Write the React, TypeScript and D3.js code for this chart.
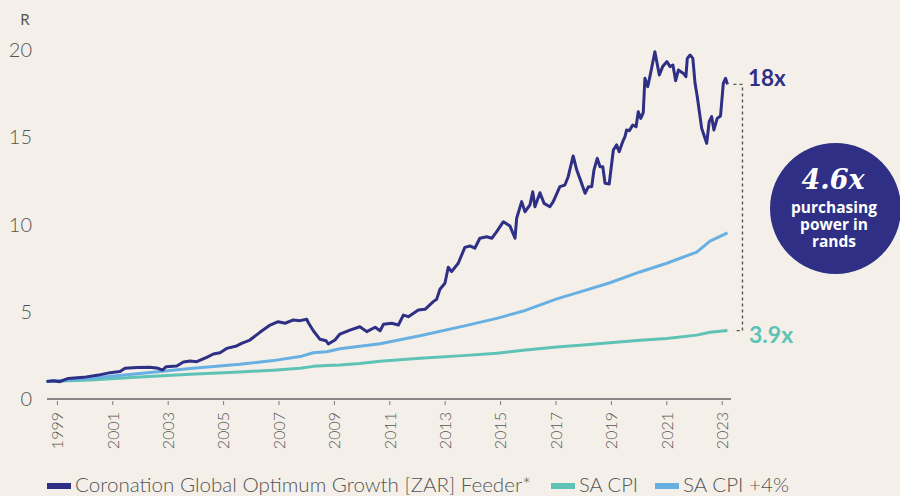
import React from "react";
import * as d3 from "d3";

const fundYears = [1998.61,1998.85,1999.09,1999.39,1999.94,2000.48,2000.90,2001.26,2001.44,2001.86,2002.34,2002.64,2002.80,2002.92,2003.31,2003.55,2003.79,2004.03,2004.39,2004.63,2004.87,2005.11,2005.47,2005.65,2005.95,2006.31,2006.68,2006.97,2007.22,2007.52,2007.76,2008.00,2008.06,2008.24,2008.48,2008.70,2008.78,2009.02,2009.20,2009.56,2009.92,2010.17,2010.47,2010.65,2010.77,2011.07,2011.31,2011.49,2011.67,2012.03,2012.27,2012.57,2012.69,2012.81,2012.99,2013.11,2013.23,2013.47,2013.71,2013.89,2014.07,2014.25,2014.50,2014.68,2014.86,2015.10,2015.34,2015.52,2015.58,2015.76,2015.88,2016.06,2016.16,2016.24,2016.42,2016.57,2016.78,2016.90,2017.14,2017.32,2017.44,2017.62,2017.75,2017.87,2018.05,2018.17,2018.29,2018.37,2018.49,2018.59,2018.69,2018.77,2018.92,2019.07,2019.19,2019.28,2019.41,2019.49,2019.55,2019.65,2019.77,2019.89,2019.97,2020.06,2020.15,2020.21,2020.31,2020.39,2020.57,2020.73,2020.85,2021.00,2021.12,2021.22,2021.32,2021.42,2021.60,2021.69,2021.74,2021.84,2021.94,2022.02,2022.10,2022.26,2022.34,2022.44,2022.53,2022.62,2022.70,2022.82,2022.94,2023.04,2023.12,2023.19];
const fundValues = [1.00,1.05,0.99,1.18,1.24,1.37,1.51,1.57,1.76,1.80,1.82,1.76,1.66,1.85,1.89,2.12,2.18,2.14,2.39,2.58,2.65,2.90,3.04,3.19,3.38,3.82,4.24,4.43,4.34,4.53,4.49,4.57,4.37,3.91,3.42,3.34,3.15,3.38,3.72,3.95,4.14,3.86,4.11,3.91,4.28,4.34,4.24,4.81,4.72,5.10,5.14,5.58,5.71,6.29,6.63,7.55,7.30,7.78,8.69,8.77,8.64,9.21,9.30,9.21,9.59,10.16,9.91,9.21,10.36,11.31,10.73,11.12,11.88,11.02,11.82,11.21,11.02,11.31,12.17,12.26,12.74,13.93,13.12,12.60,11.79,12.17,12.17,13.12,13.79,13.31,13.31,12.36,12.32,14.27,14.56,14.17,14.75,15.03,15.42,15.38,15.70,15.60,16.46,16.08,16.41,18.38,17.90,18.47,19.90,18.57,19.05,19.33,19.05,19.14,18.24,18.85,18.66,18.47,19.52,19.71,19.52,18.09,17.32,15.51,15.13,14.65,15.89,16.18,15.42,16.08,16.22,18.09,18.38,18.03];

const cpiYears = [1998.61,2000.18,2001.98,2003.79,2005.59,2006.79,2007.76,2008.24,2008.72,2009.20,2009.92,2010.65,2012.09,2013.78,2014.86,2015.82,2017.03,2017.87,2018.95,2020.03,2021.00,2022.08,2022.56,2023.19];
const cpiValues = [1.00,1.09,1.26,1.42,1.55,1.65,1.76,1.87,1.92,1.95,2.04,2.16,2.33,2.50,2.62,2.79,2.98,3.08,3.22,3.36,3.47,3.66,3.82,3.92];
const cpiPlusValues = [1.00,1.19,1.46,1.75,1.99,2.20,2.43,2.65,2.71,2.88,3.02,3.17,3.62,4.22,4.62,5.04,5.74,6.14,6.66,7.28,7.78,8.42,9.05,9.52];

const yTicks = [0, 5, 10, 15, 20];
const xTickYears = [1999, 2001, 2003, 2005, 2007, 2009, 2011, 2013, 2015, 2017, 2019, 2021, 2023];

const seriesNames = ["Coronation Global Optimum Growth [ZAR] Feeder*", "SA CPI", "SA CPI +4%"];
const fundMultiple = "18x";
const cpiMultiple = "3.9x";
const bubbleMain = "4.6x";
const bubbleLines = ["purchasing", "power in", "rands"];

const NAVY = "#2e2f85";
const TEAL = "#5fc2b6";
const LBLUE = "#68afe2";
const BG = "#f4f0e9";
const GREY = "#555555";
const FONT = "Lato, 'Open Sans', sans-serif";

export default function App() {
  const W = 900, H = 496;
  const x = d3.scaleLinear().domain([1999, 2023]).range([57.4, 722.2]);
  const y = d3.scaleLinear().domain([0, 20]).range([399, 50]);
  const line = d3.line<[number, number]>().x(d => x(d[0])).y(d => y(d[1]));
  const fund = fundYears.map((t, i) => [t, fundValues[i]] as [number, number]);
  const cpi = cpiYears.map((t, i) => [t, cpiValues[i]] as [number, number]);
  const cpiPlus = cpiYears.map((t, i) => [t, cpiPlusValues[i]] as [number, number]);

  const fundEnd = fund[fund.length - 1];
  const cpiEnd = cpi[cpi.length - 1];
  const bx = x(fundEnd[0]) + 15;
  const yTop = y(fundEnd[1]);
  const yBot = y(cpiEnd[1]);

  const legendItems = [
    { name: seriesNames[0], color: NAVY, x: 47, w: 456 },
    { name: seriesNames[1], color: TEAL, x: 551, w: 59 },
    { name: seriesNames[2], color: LBLUE, x: 655, w: 106 },
  ];

  return (
    <svg width={W} height={H} style={{ position: "absolute", left: 0, top: 0, display: "block" }} fontFamily={FONT}>
      <rect width={W} height={H} fill={BG} />
      <text x={25} y={25} fontSize={15} fill={GREY} textAnchor="middle">R</text>
      {yTicks.map(t => (
        <text key={t} x={32} y={y(t) + 7} fontSize={20} fill={GREY} textAnchor="end" fontWeight={300}>{t}</text>
      ))}
      <line x1={47} x2={731} y1={y(0)} y2={y(0)} stroke="#666" strokeWidth={1.3} />
      {xTickYears.map(t => (
        <g key={t}>
          <line x1={x(t)} x2={x(t)} y1={y(0) + 2} y2={y(0) + 6} stroke="#777" strokeWidth={1} />
          <text transform={`translate(${x(t) + 5.8},${y(0) + 13}) rotate(-90)`} fontSize={16} fill={GREY} textAnchor="end" fontWeight={300}>{t}</text>
        </g>
      ))}
      <path d={line(cpi) || ""} fill="none" stroke={TEAL} strokeWidth={3} strokeLinejoin="round" />
      <path d={line(cpiPlus) || ""} fill="none" stroke={LBLUE} strokeWidth={3} strokeLinejoin="round" />
      <path d={line(fund) || ""} fill="none" stroke={NAVY} strokeWidth={3} strokeLinejoin="round" />

      <path d={`M${bx - 9},${yTop}H${bx}V${yBot}H${bx - 9}`} fill="none" stroke={GREY} strokeWidth={1.4} strokeDasharray="3,3" />
      <text x={748} y={86} fontSize={22.5} fontWeight={700} fill={NAVY}>{fundMultiple}</text>
      <text x={749} y={343} fontSize={23} fontWeight={700} fill={TEAL}>{cpiMultiple}</text>

      <circle cx={835.5} cy={208.5} r={65.5} fill={NAVY} />
      <text x={833} y={189} fontSize={27} fontWeight={700} fontStyle="italic" fill="#fff" textAnchor="middle" fontFamily="'DejaVu Serif', 'Liberation Serif', serif">{bubbleMain}</text>
      {bubbleLines.map((s, i) => (
        <text key={s} x={834} y={213 + i * 17} fontSize={15.5} fontWeight={700} fill="#fff" textAnchor="middle" fontFamily="'Open Sans', Lato, sans-serif">{s}</text>
      ))}

      {legendItems.map(it => (
        <g key={it.name}>
          <rect x={it.x} y={483} width={24} height={6} fill={it.color} />
          <text x={it.x + 28} y={492} fontSize={19.5} fill={GREY} fontWeight={300} textLength={it.w} lengthAdjust="spacingAndGlyphs">{it.name}</text>
        </g>
      ))}
    </svg>
  );
}
